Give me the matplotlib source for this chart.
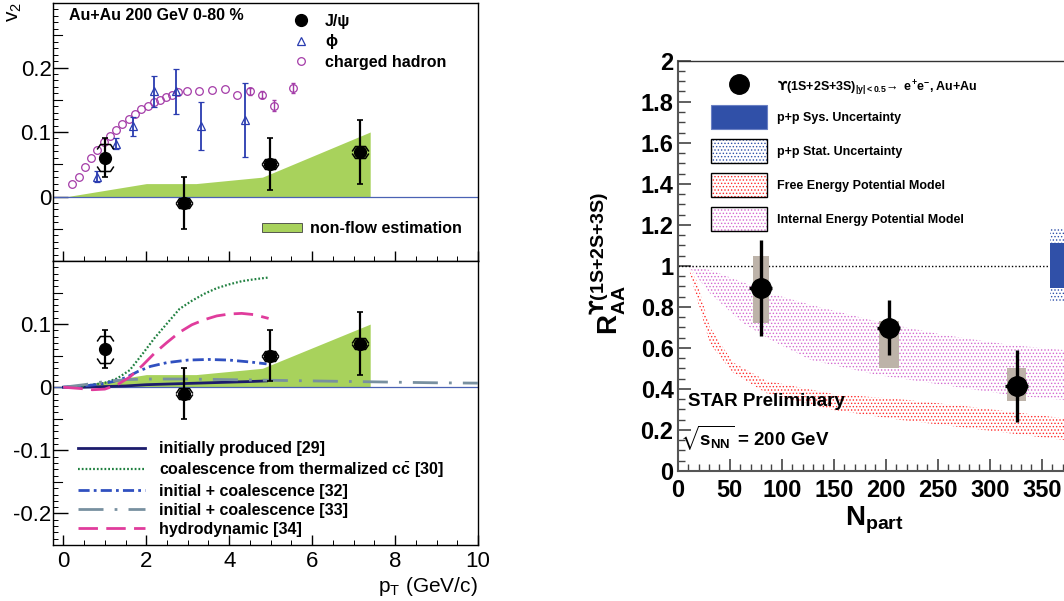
import numpy as np
import matplotlib
matplotlib.use('Agg')
import matplotlib.pyplot as plt
import matplotlib.transforms as mtransforms
from matplotlib.lines import Line2D
from matplotlib.patches import Patch, Rectangle
from matplotlib.path import Path
from matplotlib.ticker import MultipleLocator, FuncFormatter

plt.rcParams['font.family'] = ['Liberation Sans', 'DejaVu Sans']
plt.rcParams['mathtext.fontset'] = 'custom'
plt.rcParams['mathtext.rm'] = 'Liberation Sans'
plt.rcParams['mathtext.bf'] = 'Liberation Sans:bold'
plt.rcParams['mathtext.it'] = 'Liberation Sans:italic'
plt.rcParams['mathtext.sf'] = 'DejaVu Sans:bold'
plt.rcParams['mathtext.fallback'] = 'stixsans'
plt.rcParams['axes.unicode_minus'] = False
plt.rcParams['hatch.linewidth'] = 0.6

# ---------------- data: J/psi v2 (left) ----------------
jpsi_pt = [1.0, 2.9, 4.98, 7.15]
jpsi_v2 = [0.060, -0.010, 0.050, 0.069]
jpsi_stat = [0.030, 0.040, 0.040, 0.050]
jpsi_sys = [0.021, 0.008, 0.008, 0.009]

phi_pt = [0.80, 1.26, 1.67, 2.19, 2.72, 3.33, 4.39]
phi_v2 = [0.031, 0.082, 0.109, 0.163, 0.163, 0.109, 0.119]
phi_err = [0.009, 0.009, 0.015, 0.024, 0.035, 0.037, 0.057]

h_pt = [0.21, 0.37, 0.52, 0.67, 0.82, 0.97, 1.12, 1.26, 1.42, 1.58, 1.73, 1.88, 2.03,
        2.18, 2.32, 2.48, 2.62, 2.77, 2.98, 3.28, 3.59, 3.89, 4.19, 4.49, 4.79, 5.09, 5.55]
h_v2 = [0.019, 0.031, 0.046, 0.059, 0.072, 0.084, 0.094, 0.103, 0.112, 0.120, 0.128, 0.135, 0.141,
        0.146, 0.150, 0.154, 0.157, 0.162, 0.164, 0.164, 0.165, 0.166, 0.158, 0.163, 0.158, 0.141, 0.168]
h_err = [0.0] * 23 + [0.005, 0.006, 0.008, 0.008]

nonflow_pt = [0.1, 2.0, 3.2, 4.8, 7.4]
nonflow_hi = [0.0, 0.020, 0.020, 0.030, 0.100]

init29_pt = [0, 0.5, 1.0, 1.5, 2.0, 2.5, 3.0, 3.5, 4.0, 4.5, 4.9]
init29_v2 = [0, 0.0, 0.001, 0.002, 0.004, 0.005, 0.006, 0.007, 0.008, 0.009, 0.010]

coal30_pt = [0, 0.5, 1.0, 1.3, 1.6, 1.9, 2.2, 2.5, 2.8, 3.1, 3.4, 3.7, 4.0, 4.3, 4.6, 4.97]
coal30_v2 = [0, 0.002, 0.007, 0.014, 0.027, 0.052, 0.078, 0.101, 0.124, 0.137, 0.148, 0.157,
             0.163, 0.168, 0.171, 0.174]

coal32_pt = [0, 0.5, 0.9, 1.2, 1.5, 1.8, 2.1, 2.5, 3.0, 3.5, 4.0, 4.5, 4.9]
coal32_v2 = [0, 0.002, 0.005, 0.009, 0.015, 0.025, 0.033, 0.039, 0.043, 0.044, 0.043, 0.040, 0.037]

coal33_pt = [0, 0.5, 1.0, 1.5, 2.0, 3.0, 4.0, 5.0, 6.0, 7.0, 8.0, 9.0, 10.0]
coal33_v2 = [0, 0.004, 0.009, 0.012, 0.013, 0.013, 0.012, 0.011, 0.010, 0.009, 0.008, 0.007, 0.0065]

hydro_pt = [0, 0.4, 0.7, 1.0, 1.3, 1.6, 1.9, 2.2, 2.5, 2.8, 3.1, 3.4, 3.7, 4.0, 4.3, 4.6, 4.95]
hydro_v2 = [0, -0.002, -0.004, -0.003, 0.004, 0.016, 0.034, 0.054, 0.071, 0.087, 0.099, 0.107,
            0.113, 0.116, 0.117, 0.115, 0.109]

# ---------------- data: Upsilon R_AA (right) ----------------
ups_npart = [80, 203, 326]
ups_raa = [0.891, 0.699, 0.416]
ups_stat = [0.235, 0.135, 0.175]
ups_xerr = [11, 11, 11]
ups_sys_lo = [0.72, 0.50, 0.343]
ups_sys_hi = [1.05, 0.733, 0.50]
ups_sys_hw = [8, 9.6, 9.3]

pp_x = [358, 400]
pp_sys = [0.894, 1.11]
pp_stat = [0.822, 1.183]

free_npart = [10, 18, 31, 53, 85, 150, 214, 278, 371, 400]
free_hi = [1.0, 0.93, 0.70, 0.53, 0.44, 0.375, 0.35, 0.315, 0.257, 0.245]
free_lo = [1.0, 0.85, 0.62, 0.48, 0.38, 0.297, 0.249, 0.21, 0.151, 0.14]

int_npart = [10, 31, 63, 89, 128, 192, 256, 320, 371, 400]
int_hi = [1.0, 0.98, 0.92, 0.866, 0.81, 0.728, 0.663, 0.614, 0.59, 0.575]
int_lo = [1.0, 0.866, 0.72, 0.64, 0.541, 0.468, 0.419, 0.37, 0.346, 0.335]

# ---------------- figure ----------------
W, H = 1064, 601
fig = plt.figure(figsize=(W / 100, H / 100), dpi=100)


def fr(x0, y0, x1, y1):
    return [x0 / W, 1 - y1 / H, (x1 - x0) / W, (y1 - y0) / H]


ax1 = fig.add_axes(fr(53, 3, 478, 261))
ax2 = fig.add_axes(fr(53, 261, 478, 545))
ax3 = fig.add_axes(fr(677.7, 60.7, 677.7 + 416, 471))

green = '#a8d25c'
fmt = FuncFormatter(lambda v, p: '%g' % round(v, 3))

# bracket markers for J/psi systematic errors
br_up = Path([(-1, -0.6), (-0.6, 0), (0.6, 0), (1, -0.6)],
             [Path.MOVETO, Path.LINETO, Path.LINETO, Path.LINETO])
br_dn = Path([(-1, 0.6), (-0.6, 0), (0.6, 0), (1, 0.6)],
             [Path.MOVETO, Path.LINETO, Path.LINETO, Path.LINETO])


def draw_jpsi(ax):
    ax.errorbar(jpsi_pt, jpsi_v2, yerr=jpsi_stat, fmt='o', color='black', ms=8.5,
                elinewidth=1.6, capsize=2.5, capthick=1.2, zorder=6)
    up = np.array(jpsi_v2) + np.array(jpsi_sys)
    dn = np.array(jpsi_v2) - np.array(jpsi_sys)
    ax.plot(jpsi_pt, up, ls='none', marker=br_up, ms=12, mfc='none', mec='black', mew=1.1, zorder=6)
    ax.plot(jpsi_pt, dn, ls='none', marker=br_dn, ms=12, mfc='none', mec='black', mew=1.1, zorder=6)


def style_left(ax):
    ax.set_xlim(-0.25, 10)
    ax.xaxis.set_major_locator(MultipleLocator(2))
    ax.xaxis.set_minor_locator(MultipleLocator(0.5))
    ax.yaxis.set_major_locator(MultipleLocator(0.1))
    ax.yaxis.set_minor_locator(MultipleLocator(0.01))
    ax.yaxis.set_major_formatter(fmt)
    ax.xaxis.set_major_formatter(fmt)
    ax.tick_params(which='both', direction='in', top=False, right=False, labelsize=16)
    ax.tick_params(axis='y', which='major', length=11, width=1, pad=1)
    ax.tick_params(axis='y', which='minor', length=3.5, width=0.7)
    ax.tick_params(axis='x', which='major', length=7, width=1, pad=4)
    ax.tick_params(axis='x', which='minor', length=3.5, width=0.7)
    for s in ax.spines.values():
        s.set_linewidth(1.0)
    tr = mtransforms.blended_transform_factory(ax.transAxes, ax.transData)
    lo, hi = ax.get_ylim()
    for v in np.arange(-0.25, 0.3, 0.1):
        if lo < v < hi:
            ax.plot([0, 0.02], [v, v], transform=tr, color='black', lw=0.8, clip_on=False)


# ---- top-left panel
ax1.fill_between(nonflow_pt, 0, nonflow_hi, color=green, lw=0, zorder=1)
ax1.axhline(0, color='#4a62b4', lw=0.9, zorder=2)
has_err = np.array(h_err) > 0
ax1.plot(h_pt, h_v2, ls='none', marker='o', ms=5.5, mfc='none', mec='#a43ca8', mew=0.9, zorder=4)
ax1.errorbar(np.array(h_pt)[has_err], np.array(h_v2)[has_err], yerr=np.array(h_err)[has_err],
             fmt='none', ecolor='#a43ca8', elinewidth=1.0, capsize=1.5, zorder=4)
ax1.errorbar(phi_pt, phi_v2, yerr=phi_err, fmt='^', ms=6, mfc='none', mec='#2a3cb0', color='#2a3cb0',
             mew=0.9, elinewidth=1.3, capsize=2, zorder=5)
draw_jpsi(ax1)
ax1.set_ylim(-0.1, 0.3)
style_left(ax1)
ax1.set_yticks([0, 0.1, 0.2])
ax1.tick_params(axis='x', labelbottom=False)

ax1.text(69 / W, 1 - 16 / H, 'Au+Au 200 GeV 0-80 %', transform=fig.transFigure,
         fontsize=11.5, fontweight='bold', va='center', ha='left')
top_handles = [
    Line2D([], [], ls='none', marker='o', color='black', ms=8.5),
    Line2D([], [], ls='none', marker='^', mfc='none', mec='#2a3cb0', ms=6, mew=0.9),
    Line2D([], [], ls='none', marker='o', mfc='none', mec='#a43ca8', ms=5.5, mew=0.9),
]
leg1 = ax1.legend(top_handles, ['J/ψ', 'ϕ', 'charged hadron'], loc='upper left',
                  bbox_to_anchor=(293 / W, 1 - 14 / H), bbox_transform=fig.transFigure,
                  frameon=False, prop={'weight': 'bold', 'size': 11.5},
                  handlelength=1.0, handletextpad=1.0, labelspacing=0.33, borderpad=0,
                  borderaxespad=0)
ax1.add_artist(leg1)
ax1.legend([Patch(facecolor=green, edgecolor='#404040', lw=0.6)], ['non-flow estimation'],
           loc='upper left', bbox_to_anchor=(262 / W, 1 - 221 / H), bbox_transform=fig.transFigure,
           frameon=False, prop={'weight': 'bold', 'size': 11.5}, handlelength=2.5,
           handleheight=0.45, handletextpad=0.5, borderpad=0, borderaxespad=0)

fig.text(14 / W, 1 - 12 / H, 'v$_2$', rotation=90, fontsize=15, ha='center', va='center')

# ---- bottom-left panel
ax2.fill_between(nonflow_pt, 0, nonflow_hi, color=green, lw=0, zorder=1)
ax2.axhline(0, color='#4a62b4', lw=0.9, zorder=2)
l29, = ax2.plot(init29_pt, init29_v2, color='#1c1c6c', lw=2.0, zorder=3)
l30, = ax2.plot(coal30_pt, coal30_v2, color='#208040', lw=1.6, ls=(0, (0.8, 0.9)), zorder=3)
l32, = ax2.plot(coal32_pt, coal32_v2, color='#3050c0', lw=2.0, ls=(0, (4, 1.5, 1, 1.5)), zorder=3)
l33, = ax2.plot(coal33_pt, coal33_v2, color='#7890a0', lw=2.0, ls=(0, (9, 4, 1, 4)), zorder=3)
l34, = ax2.plot(hydro_pt, hydro_v2, color='#e03c9c', lw=2.0, ls=(0, (7, 3)), zorder=3)
draw_jpsi(ax2)
ax2.set_ylim(-0.25, 0.2)
style_left(ax2)
ax2.set_yticks([-0.2, -0.1, 0, 0.1])
ax2.legend([l29, l30, l32, l33, l34],
           ['initially produced [29]',
            r'coalescence from thermalized c$\bar{\mathbf{c}}$ [30]',
            'initial + coalescence [32]',
            'initial + coalescence [33]',
            'hydrodynamic [34]'],
           loc='upper left', bbox_to_anchor=(78 / W, 1 - 441.5 / H), bbox_transform=fig.transFigure,
           frameon=False, prop={'weight': 'bold', 'size': 11.5}, handlelength=4.2,
           handletextpad=0.85, labelspacing=0.25, borderpad=0, borderaxespad=0)
fig.text(478 / W, 1 - 592 / H, r'p$_{\mathrm{T}}$ (GeV/c)', fontsize=15, ha='right',
         va='baseline')

# ---- right panel
red = '#ff2a2a'
mag = '#d468d0'
blue = '#3050a8'
ax3.fill_between(int_npart, int_lo, int_hi, facecolor='none', edgecolor=mag, hatch='.....',
                 lw=0, zorder=1)
ax3.fill_between(free_npart, free_lo, free_hi, facecolor='none', edgecolor=red, hatch='.....',
                 lw=0, zorder=1)
ax3.hlines(1, 0, pp_x[0], colors='black', linestyles=(0, (1, 1.5)), lw=1.0, zorder=2)
ax3.add_patch(Rectangle((pp_x[0], pp_stat[0]), pp_x[1] - pp_x[0], pp_stat[1] - pp_stat[0],
                        facecolor='none', edgecolor=blue, hatch='.....', lw=0, zorder=3))
ax3.add_patch(Rectangle((pp_x[0], pp_sys[0]), pp_x[1] - pp_x[0], pp_sys[1] - pp_sys[0],
                        facecolor=blue, edgecolor='none', zorder=3))
for x, lo, hi, hw in zip(ups_npart, ups_sys_lo, ups_sys_hi, ups_sys_hw):
    ax3.add_patch(Rectangle((x - hw, lo), 2 * hw, hi - lo, facecolor='#bdb3a9',
                            edgecolor='none', zorder=4))
ax3.errorbar(ups_npart, ups_raa, yerr=ups_stat, xerr=ups_xerr, fmt='o', color='black', ms=14,
             elinewidth=2.4, capsize=0, zorder=5)

ax3.set_xlim(0, 400)
ax3.set_ylim(0, 2)
ax3.set_xticks(np.arange(0, 351, 50))
ax3.xaxis.set_minor_locator(MultipleLocator(10))
ax3.yaxis.set_major_locator(MultipleLocator(0.2))
ax3.yaxis.set_minor_locator(MultipleLocator(0.05))
ax3.yaxis.set_major_formatter(fmt)
ax3.xaxis.set_major_formatter(fmt)
ax3.tick_params(which='both', direction='in', top=False, right=False, labelsize=17,
                color='#444444')
ax3.tick_params(which='major', length=9, width=1.2, pad=3)
ax3.tick_params(axis='x', which='major', pad=6)
ax3.tick_params(which='minor', length=5, width=1.0)
for lab in ax3.get_xticklabels() + ax3.get_yticklabels():
    lab.set_fontweight('bold')
for s in ('left', 'bottom'):
    ax3.spines[s].set_linewidth(1.5)
    ax3.spines[s].set_color('#555555')
ax3.spines['top'].set_linewidth(1.0)
ax3.spines['top'].set_color('#333333')

fig.text(845 / W, 1 - 526 / H, r'N$_{\mathbf{part}}$', fontsize=20, fontweight='bold',
         ha='left', va='baseline')
fig.text(619 / W, 1 - 335 / H, r'R$_{\mathbf{AA}}^{\mathsf{ϒ}\mathbf{(1S{+}2S{+}3S)}}$',
         fontsize=20, fontweight='bold', rotation=90, rotation_mode='anchor', ha='left',
         va='baseline')
ax3.text(688 / W, 1 - 406 / H, 'STAR Preliminary', transform=fig.transFigure, fontsize=13.5,
         fontweight='bold', ha='left', va='baseline')
ax3.text(680 / W, 1 - 445 / H, r'$\sqrt{\mathbf{s}_{\mathbf{NN}}}$ = 200 GeV',
         transform=fig.transFigure, fontsize=13.5, fontweight='bold', ha='left', va='baseline')

leg_kw = dict(frameon=False, prop={'weight': 'bold', 'size': 9}, handlelength=4.45,
              handleheight=2.58, handletextpad=0.8, labelspacing=0.8, borderpad=0,
              borderaxespad=0, bbox_transform=fig.transFigure, loc='upper left')
legA = ax3.legend([Line2D([], [], ls='none', marker='o', color='black', ms=14)],
                  [r'$\mathsf{ϒ}$(1S+2S+3S)$_{\mathbf{|y|{<}0.5}}\!\rightarrow$ '
                   r'e$^{\mathbf{+}}$e$^{\mathbf{-}}$, Au+Au'],
                  bbox_to_anchor=(711 / W, 1 - 76 / H), **leg_kw)
ax3.add_artist(legA)
frame = dict(fill=False, edgecolor='black', lw=1.0)
box_handles = [
    Patch(facecolor=blue, edgecolor='#6a80c4', lw=0.8),
    (Patch(facecolor='white', edgecolor=blue, hatch='.....', lw=0), Patch(**frame)),
    (Patch(facecolor='white', edgecolor=red, hatch='.....', lw=0), Patch(**frame)),
    (Patch(facecolor='white', edgecolor=mag, hatch='.....', lw=0), Patch(**frame)),
]
box_labels = [
    'p+p Sys. Uncertainty',
    'p+p Stat. Uncertainty',
    'Free Energy Potential Model',
    'Internal Energy Potential Model',
]
ax3.legend(box_handles, box_labels, bbox_to_anchor=(711 / W, 1 - 105.25 / H), **leg_kw)

fig.savefig('out.png', dpi=100)
